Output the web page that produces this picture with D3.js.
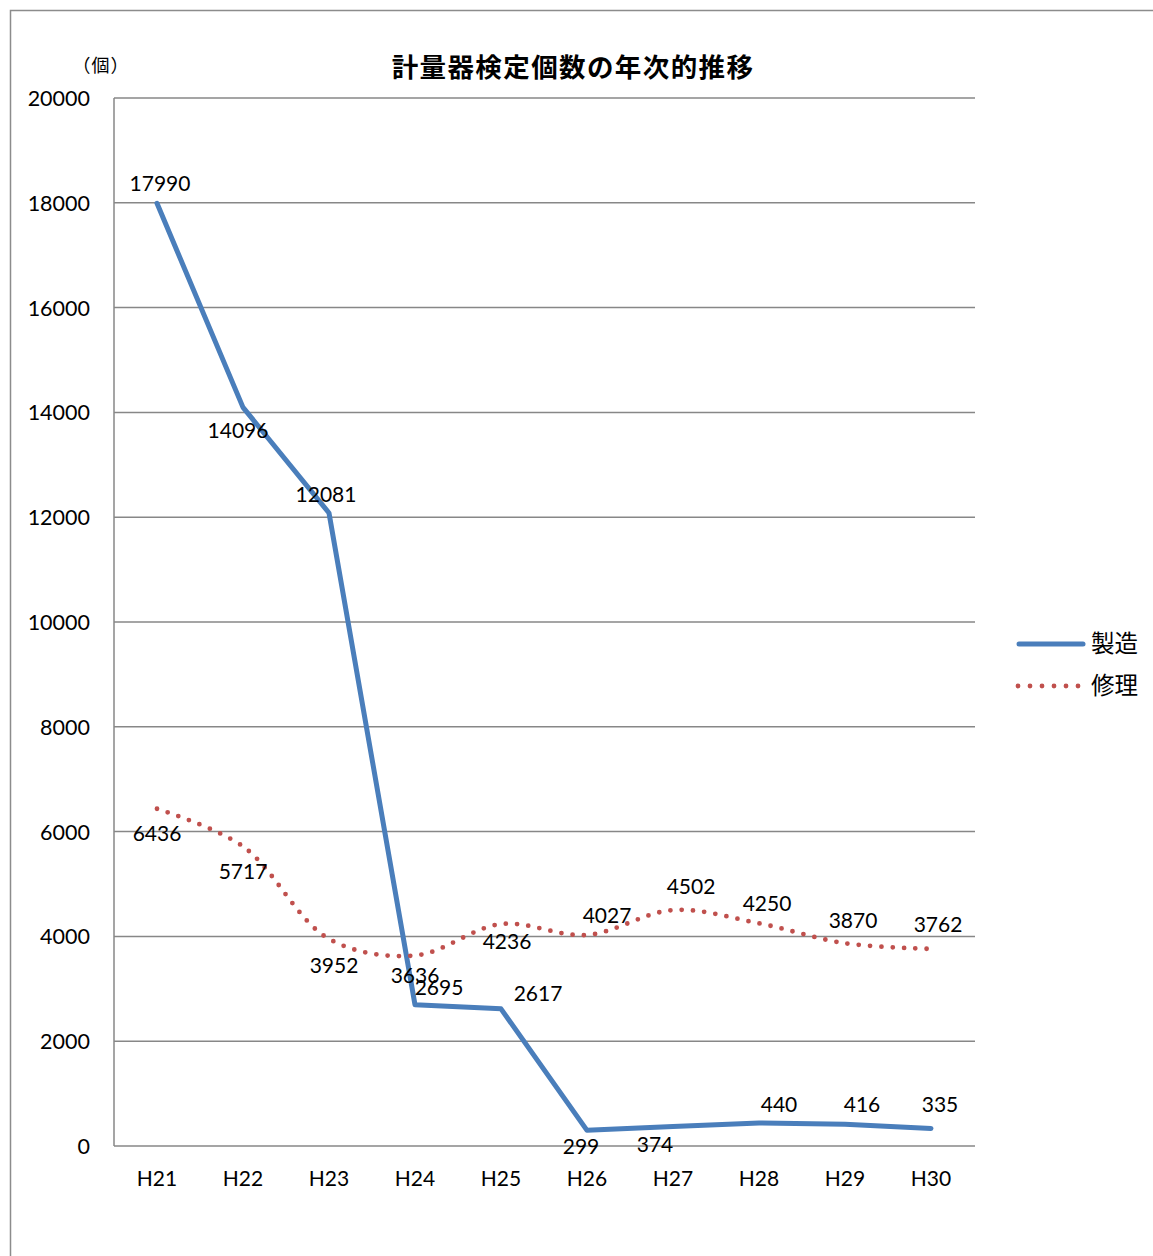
<!DOCTYPE html>
<html>
<head>
<meta charset="utf-8">
<script src="https://cdn.jsdelivr.net/npm/d3@7"></script>
<style>
html,body{margin:0;padding:0;background:#fff;}
svg{display:block;}
</style>
</head>
<body>
<svg id="chart" width="1153" height="1256"></svg>
<script>
// ---- data ----
const title = "計量器検定個数の年次的推移";
const unitLabel = "（個）";
const categories = ["H21","H22","H23","H24","H25","H26","H27","H28","H29","H30"];
const seriesNames = ["製造","修理"];
const seizo = [17990,14096,12081,2695,2617,299,374,440,416,335];
const shuri = [6436,5717,3952,3636,4236,4027,4502,4250,3870,3762];
const yTicks = [0,2000,4000,6000,8000,10000,12000,14000,16000,18000,20000];

// ---- label offsets (layout, kept apart from data) ----
const seizoLabelOffsets = [[3,-20],[-5,23],[-3,-18],[24,-17],[37,-15],[-6,16],[-18,18],[20,-18],[17,-20],[9,-24]];
const shuriLabelOffsets = [[0,25],[0,25],[5,27],[0,20],[6,18],[20,-19],[18,-23],[8,-20],[8,-23],[7,-24]];

const svg = d3.select("#chart");
const plot = {left:114, right:974, top:98, bottom:1146};
const numFont = "Lato, 'Open Sans', 'Noto Sans', sans-serif";
const jpFont = "'Noto Sans CJK JP', sans-serif";
const blue = "#4a7ebb", red = "#c0504d", grid = "#878787";

// outer frame
svg.append("path").attr("d","M10.5,1256 V10.5 H1153")
  .attr("fill","none").attr("stroke","#8c8c8c").attr("stroke-width",1.5);

const x = d3.scaleBand().domain(categories).range([plot.left, plot.right]);
const y = d3.scaleLinear().domain([0,20000]).range([plot.bottom, plot.top]);
const cx = c => x(c) + x.bandwidth()/2;

// gridlines
svg.append("g").selectAll("line").data(yTicks).join("line")
  .attr("x1",plot.left).attr("x2",plot.right+1)
  .attr("y1",d=>y(d)).attr("y2",d=>y(d))
  .attr("stroke",grid).attr("stroke-width",1.5);
// y axis line
svg.append("line").attr("x1",plot.left).attr("x2",plot.left)
  .attr("y1",plot.top).attr("y2",plot.bottom)
  .attr("stroke",grid).attr("stroke-width",1.5);

// y axis labels
const yAxis = d3.axisLeft(y).tickValues(yTicks).tickSize(0).tickPadding(24).tickFormat(d3.format("d"));
const gy = svg.append("g").attr("transform",`translate(${plot.left},0)`).call(yAxis);
gy.select(".domain").remove();
gy.selectAll("text").attr("font-family",numFont).attr("font-size",21.5).attr("fill","#000").attr("dy","0.35em");

// x axis labels
const xAxis = d3.axisBottom(x).tickSize(0).tickPadding(25);
const gx = svg.append("g").attr("transform",`translate(0,${plot.bottom})`).call(xAxis);
gx.select(".domain").remove();
gx.selectAll("text").attr("font-family",numFont).attr("font-size",21).attr("fill","#000");

// lines
const blueLine = d3.line().x((d,i)=>cx(categories[i])).y(d=>y(d));
svg.append("path").datum(seizo).attr("d",blueLine)
  .attr("fill","none").attr("stroke",blue).attr("stroke-width",5)
  .attr("stroke-linejoin","round").attr("stroke-linecap","round");

const redLine = d3.line().x((d,i)=>cx(categories[i])).y(d=>y(d)).curve(d3.curveCatmullRom.alpha(0.5));
svg.append("path").datum(shuri).attr("d",redLine)
  .attr("fill","none").attr("stroke",red).attr("stroke-width",4.8)
  .attr("stroke-dasharray","0 11.3").attr("stroke-linecap","round");

// data labels
function labels(vals, offs){
  svg.append("g").selectAll("text").data(vals).join("text")
    .attr("x",(d,i)=>cx(categories[i])+offs[i][0])
    .attr("y",(d,i)=>y(d)+offs[i][1])
    .attr("dy","0.35em").attr("text-anchor","middle")
    .attr("font-family",numFont).attr("font-size",21).attr("fill","#000")
    .text(d=>d);
}
labels(seizo, seizoLabelOffsets);
labels(shuri, shuriLabelOffsets);

// title
svg.append("text").attr("x",573).attr("y",68).attr("dy","0.35em")
  .attr("text-anchor","middle").attr("font-family",jpFont).attr("font-weight","bold")
  .attr("font-size",26.5).attr("letter-spacing",1.4).attr("fill","#000").text(title);

// unit label
svg.append("text").attr("x",101).attr("y",66).attr("dy","0.35em")
  .attr("text-anchor","middle").attr("font-family",jpFont)
  .attr("font-size",18).attr("letter-spacing",1).attr("fill","#000").text(unitLabel);

// legend
const legend = svg.append("g");
const legY = [644, 686];
legend.append("line").attr("x1",1019).attr("x2",1083).attr("y1",legY[0]).attr("y2",legY[0])
  .attr("stroke",blue).attr("stroke-width",5).attr("stroke-linecap","round");
legend.append("line").attr("x1",1018).attr("x2",1081).attr("y1",legY[1]).attr("y2",legY[1])
  .attr("stroke",red).attr("stroke-width",4.8).attr("stroke-dasharray","0 12").attr("stroke-linecap","round");
legend.selectAll("text.lg").data(seriesNames).join("text").attr("class","lg")
  .attr("x",1091).attr("y",(d,i)=>legY[i]).attr("dy","0.35em")
  .attr("font-family",jpFont).attr("font-size",23.5).attr("fill","#000").text(d=>d);
</script>
</body>
</html>
